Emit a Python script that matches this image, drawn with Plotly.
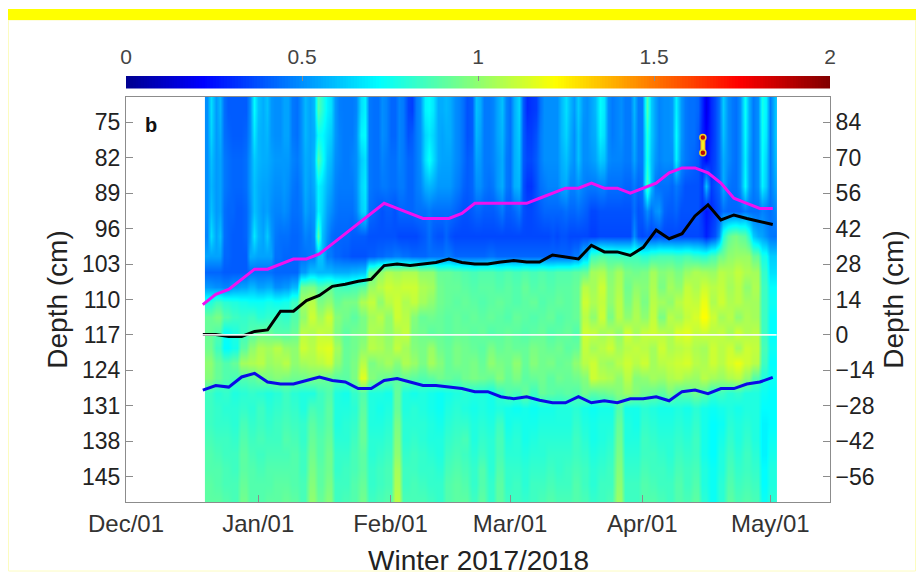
import numpy as np
import pandas as pd
import plotly.graph_objects as go

# ---- data ----
tick_dates = ["2017-12-01", "2018-01-01", "2018-02-01", "2018-03-01", "2018-04-01", "2018-05-01"]
tick_labels = ["Dec/01", "Jan/01", "Feb/01", "Mar/01", "Apr/01", "May/01"]
depth_ticks = [75, 82, 89, 96, 103, 110, 117, 124, 131, 138, 145]
right_ticks = [84, 70, 56, 42, 28, 14, 0, -14, -28, -42, -56]
bar_ticks = [0, 0.5, 1, 1.5, 2]
bar_labels = ["0", "0.5", "1", "1.5", "2"]

magenta_depth = [111, 109, 108, 106, 104, 104, 103, 102, 102, 101, 99, 97, 95, 93, 91, 92, 93, 94, 94, 94, 93, 91, 91,
                 91, 91, 91, 90, 89, 88, 88, 87, 88, 88, 89, 88, 87, 85, 84, 84, 85, 87, 90, 91, 92, 92]
black_depth = [116.9, 116.9, 117.3, 117.3, 116.3, 116, 112.3, 112.3, 110.2, 109.2, 107.4, 107, 106.4, 106, 103.3, 103,
               103.3, 103, 102.7, 102, 102.7, 103, 103, 102.6, 102.3, 102.6, 102.6, 101.2, 101.6, 102, 99.3, 100.6,
               100.6, 101.3, 99.7, 96.3, 98, 97, 93.5, 91.3, 94.3, 93.3, 94, 94.6, 95.2]
blue_depth = [127.9, 127, 127.3, 125.3, 124.6, 126.3, 126.7, 126.7, 126, 125.3, 126, 126.3, 127.6, 127.6, 126, 125.6,
              126.3, 127, 127, 127.3, 127.6, 128.2, 128.2, 129.2, 129.6, 129.2, 129.9, 130.4, 130.4, 129.2, 130.4, 130,
              130.4, 129.6, 129.6, 129.2, 130, 128.2, 127.9, 128.6, 127.6, 127.6, 126.7, 126.3, 125.4]

spike_dates = ["2018-04-15 05:00", "2018-04-15 05:00"]
spike_depths = [78.0, 81.0]

# upper layer (70-100 cm): heat values x100, one row per 5 cm, one column per day
u72 = [50,66,52,58,44, 40,40,40,40,40, 50,72,60,56,60, 52,50,50,54,54, 46,44,50,58,54, 58,88,80,70,66, 52,47,46,46,46, 48,66,70,46,44, 44,50,48,42,42,
       48,46,36,34,46, 50,70,72,68,56, 56,58,56,50,48, 44,38,40,60,56, 46,46,48,54,60, 48,44,56,64,40, 30,32,34,44,50, 50,50,50,58,66, 58,52,62,52,50,
       54,58,72,68,50, 46,48,50,46,46, 58,46,46,88,62, 54,48,50,50,52, 70,52,46,44,44, 42,30,18,30,36, 44,62,50,46,44, 50,74,56,46,50, 76,70,46,60]
u77 = [50,64,52,56,44, 42,40,40,40,42, 50,68,58,56,58, 52,50,50,54,54, 46,44,50,58,54, 56,74,72,66,62, 52,48,46,46,46, 50,70,72,46,44, 44,50,48,42,42,
       48,46,38,40,46, 50,64,68,64,56, 54,56,56,50,48, 44,38,40,58,54, 46,46,48,54,58, 48,44,56,62,40, 34,34,38,46,50, 50,50,50,58,64, 56,50,60,50,50,
       54,56,70,66,50, 46,48,50,46,46, 56,46,46,80,62, 54,48,50,50,52, 72,52,46,44,44, 40,28,22,30,36, 44,60,50,46,44, 50,72,56,46,50, 74,68,46,60]
u82 = [50,60,52,54,46, 44,42,42,42,44, 52,62,58,56,56, 54,52,52,52,52, 48,46,50,56,54, 58,88,76,62,58, 50,48,46,46,48, 50,62,66,46,44, 44,48,46,44,44,
       48,46,42,42,46, 50,66,74,66,56, 54,54,54,50,48, 44,40,42,54,52, 46,46,48,52,56, 46,44,56,60,40, 36,36,40,46,50, 50,50,50,56,60, 54,50,60,50,50,
       52,54,62,60,50, 48,48,48,46,46, 54,46,46,78,60, 52,48,50,50,50, 70,50,46,44,42, 40,30,24,32,36, 44,56,50,46,44, 50,70,54,46,50, 72,64,46,58]
u87 = [50,58,52,54,46, 44,42,42,42,44, 52,60,56,54,54, 52,50,50,52,50, 46,44,48,56,52, 56,70,66,58,54, 48,46,46,46,46, 50,64,68,46,44, 44,46,46,44,44,
       46,46,42,42,46, 48,56,58,56,52, 52,52,52,48,46, 42,40,42,50,50, 46,44,46,52,56, 46,44,56,58,38, 32,32,38,44,46, 48,48,48,54,56, 48,48,52,48,46,
       46,46,48,48,44, 44,44,44,42,42, 46,42,44,86,60, 46,44,44,44,42, 46,42,38,38,38, 38,34,60,34,38, 42,56,46,44,44, 50,72,54,46,50, 70,62,46,54]
u92 = [50,60,52,54,44, 42,42,40,40,42, 50,60,56,52,54, 50,48,48,50,48, 44,44,46,54,50, 52,70,64,54,50, 46,44,44,44,44, 48,62,66,44,42, 40,38,40,40,38,
       42,42,42,42,44, 44,44,46,44,44, 44,44,44,42,40, 38,38,40,42,42, 40,40,40,42,46, 40,40,42,46,38, 36,36,38,40,42, 42,42,42,42,44, 42,42,44,42,40,
       36,36,38,38,38, 38,38,38,38,38, 44,38,40,50,44, 50,52,42,40,40, 42,38,38,38,38, 38,32,26,30,34, 38,44,42,42,42, 42,46,44,44,44, 48,46,44,48]
u97 = [48,66,54,60,44, 42,40,40,40,42, 52,68,58,54,62, 52,46,44,44,44, 42,42,44,48,46, 50,90,60,50,44, 42,42,42,42,40, 40,40,40,38,38, 38,38,38,38,38,
       36,36,36,36,36, 38,40,44,40,38, 38,42,38,36,36, 36,36,36,36,36, 36,36,36,36,36, 36,36,36,36,36, 36,36,36,36,36, 36,38,36,38,38, 36,36,36,36,36,
       34,34,36,36,36, 36,36,36,36,36, 50,38,36,38,36, 36,38,36,36,36, 36,36,36,36,36, 36,34,28,34,38, 50,78,90,94,96, 92,90,80,62,56, 54,50,46,45]
upper_rows = [u72, u77, u82, u87, u92, u97]

# lower layer (100-151 cm): heat values x100, one row per 3 cm, one column per two days
r10 = [54,54,42,40,40,56,54,54,44,42, 42,44,46,60,46,42,40,38,38,40, 42,44,46,44,42,42,44,44,46,42, 42,42,42,44,42,42,42,42,42,42, 42,42,42,46,60,84,88,86,84,84, 84,80,84,86,86,84,86,82,80,86, 94,100,102,102,92,76,62]
r11 = [42,42,40,40,40,44,44,44,42,42, 42,52,60,58,58,56,56,58,60,92, 100,106,104,106,106,100,100,92,92,90, 88,86,88,88,86,88,86,88,86,88, 86,88,88,90,92,104,106,98,104,96, 94,96,104,98,100,96,102,106,104,102, 108,106,110,106,104,82,66]
r12 = [52,50,48,52,54,58,54,56,50,52, 58,94,96,88,92,86,84,86,90,102, 108,112,110,112,112,106,104,94,92,92, 90,88,90,90,88,90,88,92,88,90, 88,90,90,92,108,104,112,100,106,94, 100,98,106,96,104,100,110,106,112,108, 110,104,108,100,106,84,72]
r13 = [78,84,80,78,76,74,74,76,74,76, 84,104,108,96,100,92,96,96,106,110, 100,108,112,106,110,104,100,94,92,90, 92,90,88,90,92,90,88,90,92,88, 90,92,90,92,112,106,110,100,108,96, 104,96,108,104,100,108,112,110,118,106, 112,106,108,104,104,84,74]
r14 = [92,96,88,84,82,84,80,82,84,82, 88,100,112,104,112,98,94,90,96,104, 108,100,112,108,98,92,94,92,90,92, 90,92,90,92,90,88,92,90,88,90, 92,88,90,92,108,100,112,96,108,100, 106,100,110,96,108,104,110,114,122,112, 104,108,100,106,104,84,72]
r15 = [92,88,74,78,84,88,92,92,88,88, 92,108,106,110,108,96,90,94,96,106, 104,100,106,110,96,94,90,92,90,92, 92,90,92,88,90,92,90,88,90,92, 88,90,92,88,112,110,104,106,100,112, 104,110,112,108,106,114,116,110,112,108, 110,104,112,106,108,84,72]
r16 = [94,84,72,76,90,100,106,104,108,102, 100,112,108,114,116,104,92,94,100,108, 106,102,110,104,98,96,102,94,92,96, 94,92,90,96,92,94,92,92,96,94, 92,94,90,92,110,104,108,112,104,108, 110,108,104,112,106,108,110,106,104,112, 108,112,104,112,110,86,74]
r17 = [100,92,88,92,104,106,108,102,104,108, 100,104,106,108,112,100,92,96,108,96, 100,104,98,106,102,96,104,98,92,96, 94,96,92,100,96,94,100,92,98,94, 96,92,94,100,108,112,104,102,108,112, 108,112,104,108,110,112,114,108,106,112, 108,114,118,112,108,84,72]
r18 = [98,92,88,86,88,90,94,96,98,96, 94,94,96,94,92,90,90,96,116,98, 94,92,90,92,90,88,90,94,92,90, 94,96,94,92,98,92,96,90,92,94, 90,94,92,94,98,112,108,106,100,108, 98,100,104,102,106,108,104,102,108,104, 102,106,108,100,88,78,74]
r19 = [84,80,82,78,80,82,80,78,80,84, 80,78,78,84,88,78,76,82,88,78, 78,76,92,78,76,78,76,74,76,78, 80,78,78,76,82,88,86,92,84,92, 90,88,90,88,94,90,92,94,98,102, 98,94,92,90,96,88,90,94,90,82, 84,80,82,78,78,74,72]
r20 = [84,82,80,80,82,80,84,80,82,84, 82,78,86,84,90,78,78,80,90,78, 76,78,92,78,80,78,76,74,78,80, 78,76,78,76,78,76,74,76,74,76, 76,78,78,80,76,74,76,76,88,76, 76,80,78,76,76,78,76,80,76,74, 76,78,76,78,78,72,72]
r21 = [84,82,82,80,86,82,84,82,84,86, 84,82,90,86,90,78,80,82,92,78, 78,80,96,80,80,80,78,76,80,82, 82,78,80,78,84,76,78,76,76,78, 78,78,78,82,78,76,78,78,92,78, 76,82,80,78,78,80,78,82,76,72, 74,80,78,80,78,70,72]
r22 = [86,84,84,82,88,84,86,84,84,88, 86,82,92,88,92,80,80,84,92,80, 80,82,98,80,82,80,78,78,82,84, 86,78,82,80,86,78,80,76,78,80, 80,80,80,84,80,76,78,80,94,78, 78,84,82,80,80,82,80,84,76,72, 76,82,78,82,78,70,74]
r23 = [88,86,84,84,90,86,84,86,86,86, 88,84,94,88,94,82,82,86,90,80, 82,84,100,82,84,82,80,78,84,86, 84,80,84,80,86,80,80,78,80,80, 82,82,82,84,82,78,80,82,96,80, 80,84,84,82,80,84,82,84,76,72, 78,84,80,84,80,70,76]
r24 = [88,88,86,84,90,88,86,88,88,88, 88,84,96,90,94,82,84,86,90,82, 84,86,104,84,84,82,82,80,86,88, 86,82,88,80,88,82,82,80,82,82, 84,82,84,86,84,80,82,84,98,82, 82,86,84,84,82,86,84,86,78,74, 78,86,82,84,82,72,78]
r25 = [90,88,86,86,92,88,88,88,90,90, 88,86,98,90,96,84,84,88,92,82, 84,86,106,84,86,84,82,82,88,90, 88,82,88,82,90,82,84,80,84,84, 86,84,84,88,84,80,84,84,100,84, 84,88,86,84,84,88,84,88,78,74, 80,88,84,86,84,72,78]
r26 = [90,90,88,86,94,88,88,90,90,92, 90,86,100,92,98,84,86,88,94,84, 86,88,108,86,86,86,84,82,88,90, 90,84,90,82,90,84,84,82,84,86, 88,86,86,88,86,82,84,86,102,84, 84,88,88,86,84,88,86,90,80,74, 80,90,86,88,86,74,80]
lower_rows = [r10, r11, r12, r13, r14, r15, r16, r17, r18, r19, r20, r21, r22, r23, r24, r25, r26]

# ---- derived axes: one grid, lower rows span two of the daily columns ----
heat = np.vstack([np.array(upper_rows), np.repeat(np.array(lower_rows), 2, axis=1)]) / 100
heat_depths = [72.5 + 5 * k for k in range(len(upper_rows))] + [101.5 + 3 * k for k in range(len(lower_rows))]
heat_dates = pd.date_range("2017-12-20 00:00", periods=heat.shape[1], freq="1D")
line_dates = pd.date_range("2017-12-19 00:00", "2018-05-01 14:00", periods=len(magenta_depth))
white_dates = ["2017-12-18 18:00", "2018-05-02 12:00"]
bar_levels = np.linspace(0, 2, 256)

JET = [[0, "#00008f"], [0.11, "#0000ff"], [0.36, "#00ffff"], [0.61, "#ffff00"], [0.87, "#ff0000"], [1, "#800000"]]
FONT = "Liberation Sans"
GREY = "#8c8c8c"

fig = go.Figure()
fig.add_heatmap(x=heat_dates, y=heat_depths, z=heat, zmin=0, zmax=2, colorscale=JET, zsmooth="best",
                showscale=False, hoverinfo="skip")
fig.add_scatter(x=line_dates, y=magenta_depth, mode="lines", line=dict(color="#f011f0", width=3), showlegend=False)
fig.add_scatter(x=line_dates, y=black_depth, mode="lines", line=dict(color="#000000", width=3), showlegend=False)
fig.add_scatter(x=line_dates, y=blue_depth, mode="lines", line=dict(color="#0a0ae6", width=3), showlegend=False)
fig.add_scatter(x=white_dates, y=[0, 0], yaxis="y2", mode="lines",
                line=dict(color="#ffffff", width=1.8), opacity=0.9, showlegend=False)
fig.add_scatter(x=spike_dates, y=spike_depths, mode="lines", line=dict(color="#ffa020", width=5), showlegend=False)
fig.add_scatter(x=spike_dates, y=spike_depths, mode="lines+markers", line=dict(color="#f4f020", width=3),
                marker=dict(color="#b80808", size=6, line=dict(color="#f4d020", width=1.5)), showlegend=False)
fig.add_heatmap(x=bar_levels, y=[0], z=[bar_levels], zmin=0, zmax=2, colorscale=JET, showscale=False,
                xaxis="x3", yaxis="y3", hoverinfo="skip")

# the page adds 8px of body margin, so the figure itself starts at page (8, 8)
BOTTOM = 502
SPAN = BOTTOM - 76
fig.update_layout(
    width=916, height=568, margin=dict(l=118, r=94, t=68, b=74), autosize=False,
    paper_bgcolor="white", plot_bgcolor="white", showlegend=False,
    font=dict(family=FONT, color="#222222", size=23),
    xaxis=dict(type="date", range=["2017-12-01", "2018-05-15"], domain=[0, 1], anchor="y",
               tickvals=tick_dates, ticktext=tick_labels, ticks="inside", ticklen=7, tickcolor=GREY,
               showline=True, linecolor=GREY, mirror=True, showgrid=False, zeroline=False, tickangle=0,
               tickfont=dict(size=24, color="#333333")),
    yaxis=dict(range=[150, 70], domain=[0, (BOTTOM - 97) / SPAN], anchor="x", tickvals=depth_ticks, ticks="inside",
               ticklen=7, tickcolor=GREY, showline=True, linecolor=GREY, showgrid=False, zeroline=False,
               title=dict(text="Depth (cm)", font=dict(size=28), standoff=6)),
    yaxis2=dict(range=[-66, 94], overlaying="y", side="right", anchor="x", tickvals=right_ticks, ticks="inside",
                ticklen=7, tickcolor=GREY, showline=True, linecolor=GREY, showgrid=False, zeroline=False,
                title=dict(text="Depth (cm)", font=dict(size=28), standoff=9)),
    xaxis3=dict(range=[0, 2], domain=[0, 1], anchor="y3", side="top", tickvals=bar_ticks, ticktext=bar_labels,
                ticks="inside", ticklen=5, tickcolor=GREY, showgrid=False, zeroline=False, showline=False,
                ticklabelstandoff=7, tickfont=dict(size=21, color="#444444")),
    yaxis3=dict(range=[-0.5, 0.5], domain=[(BOTTOM - 88.5) / SPAN, 1], anchor="x3", showticklabels=False, ticks="",
                showgrid=False, zeroline=False),
    annotations=[dict(text="<b>b</b>", xref="paper", yref="paper", x=25 / 704, y=(BOTTOM - 125) / SPAN,
                      xanchor="center", yanchor="middle", showarrow=False, font=dict(size=20, color="#111111")),
                 dict(text="Winter 2017/2018", xref="paper", yref="paper", x=352 / 704, y=(BOTTOM - 560) / SPAN,
                      xanchor="center", yanchor="middle", showarrow=False, font=dict(size=28, color="#222222"))],
    shapes=[dict(type="rect", xref="paper", yref="paper", x0=-118 / 704, x1=790 / 704,
                 y0=(BOTTOM - 20) / SPAN, y1=(BOTTOM - 9) / SPAN, fillcolor="#ffff00", line_width=0),
            dict(type="rect", xref="paper", yref="paper", x0=-117.5 / 704, x1=789.5 / 704,
                 y0=(BOTTOM - 571) / SPAN, y1=(BOTTOM - 20) / SPAN, line=dict(color="#fcfcc0", width=1), layer="below")],
)
fig.write_html("out.html")
